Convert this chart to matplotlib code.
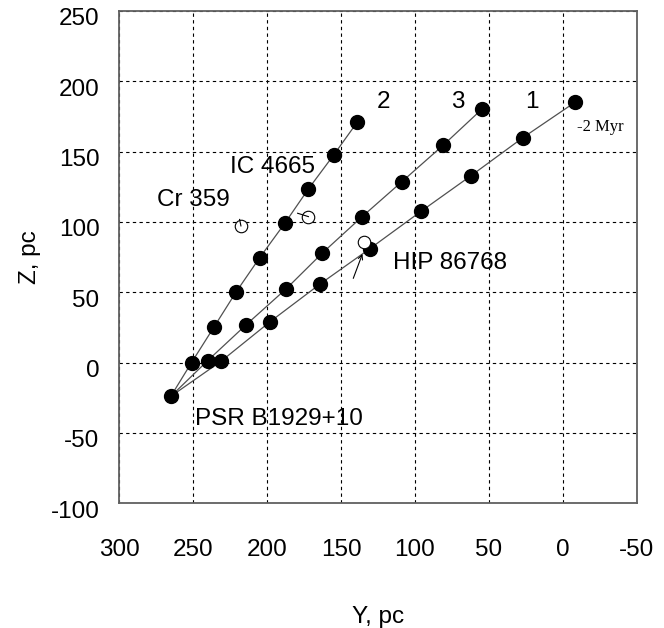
import numpy as np
import matplotlib
matplotlib.use("Agg")
from matplotlib import pyplot as plt
from matplotlib.transforms import ScaledTranslation

plt.rcParams['font.family'] = ['Liberation Sans', 'DejaVu Sans']
plt.rcParams['axes.unicode_minus'] = False

# pulsar position (start of all three tracks)
psr_y, psr_z = 265, -24

# back-traced tracks, one point per step
track1_y = [231, 198, 164, 130.5, 96, 62, 27, -8]
track1_z = [1, 29, 56, 81, 107.5, 133, 160, 185]
track2_y = [251, 236, 221, 205, 188, 172, 155, 139]
track2_z = [0, 25, 50, 74.5, 99, 123.5, 147.5, 171]
track3_y = [240, 214, 187, 162.5, 136, 109, 81, 55]
track3_z = [1.5, 27, 52.5, 78, 103.5, 128.5, 154.5, 180]

# clusters / stars (open circles) and their short motion marks
obj_names = ["Cr 359", "IC 4665", "HIP 86768"]
obj_y = [217.6, 172, 134.3]
obj_z = [97.2, 103.8, 86]
mark_end_y = [218.5, 179.3, 141.7]
mark_end_z = [101.8, 106.2, 59.9]

fig = plt.figure(figsize=(6.64, 6.28), dpi=100)
ax = fig.add_axes([0.1792, 0.1986, 0.7801, 0.7839])

for ty, tz in [(track1_y, track1_z), (track2_y, track2_z), (track3_y, track3_z)]:
    ax.plot([psr_y] + ty, [psr_z] + tz, '-', color='#505050', lw=0.9, zorder=2)
    ax.plot(ty, tz, 'o', color='black', ms=10, zorder=3)
ax.plot([psr_y], [psr_z], 'o', color='black', ms=10, zorder=3)

ax.plot(obj_y, obj_z, 'o', mfc='white', mec='black', mew=0.8, ms=9, zorder=3)
# small marks on Cr 359 and IC 4665
for i in range(2):
    ax.plot([obj_y[i], mark_end_y[i]], [obj_z[i], mark_end_z[i]], '-', color='black', lw=0.8, zorder=4)
# arrow pointing at HIP 86768
ax.annotate("", xy=(135.5, 77.3), xytext=(mark_end_y[2], mark_end_z[2]),
            arrowprops=dict(arrowstyle='->', color='black', lw=0.8, shrinkA=0, shrinkB=0,
                            mutation_scale=8))

fs = 17.5
ax.text(274.5, 115.6, obj_names[0], fontsize=fs, va='center', ha='left')
ax.text(225, 139, obj_names[1], fontsize=fs, va='center', ha='left')
ax.text(115.1, 70.7, obj_names[2], fontsize=fs, va='center', ha='left')
ax.text(248.6, -40.4, "PSR B1929+10", fontsize=fs, va='center', ha='left')
ax.text(121.6, 185.3, "2", fontsize=fs, va='center', ha='center')
ax.text(70.9, 185.3, "3", fontsize=fs, va='center', ha='center')
ax.text(21.1, 185.3, "1", fontsize=fs, va='center', ha='center')
ax.text(-9.2, 167.6, "-2 Myr", fontsize=12, va='center', ha='left', family='Liberation Serif')

ax.set_xlim(300, -50)
ax.set_ylim(-100, 250)
ax.set_xticks(np.arange(300, -51, -50))
ax.set_yticks(np.arange(-100, 251, 50))
ax.grid(True, color='black', linestyle=(0, (3, 3)), linewidth=0.8)
ax.tick_params(axis='both', length=0, labelsize=fs)
ax.tick_params(axis='x', pad=26)
ax.tick_params(axis='y', pad=14)
for lab in ax.get_yticklabels():
    lab.set_transform(lab.get_transform() + ScaledTranslation(0, -6 / 100, fig.dpi_scale_trans))
for sp in ax.spines.values():
    sp.set_color('#606060')
    sp.set_linewidth(1.3)

fig.text(378 / 664, 1 - 617 / 628, "Y, pc", fontsize=fs, ha='center', va='center')
fig.text(30 / 664, 1 - 257 / 628, "Z, pc", fontsize=fs, ha='center', va='center', rotation=90)

fig.savefig("out.png", dpi=100)
